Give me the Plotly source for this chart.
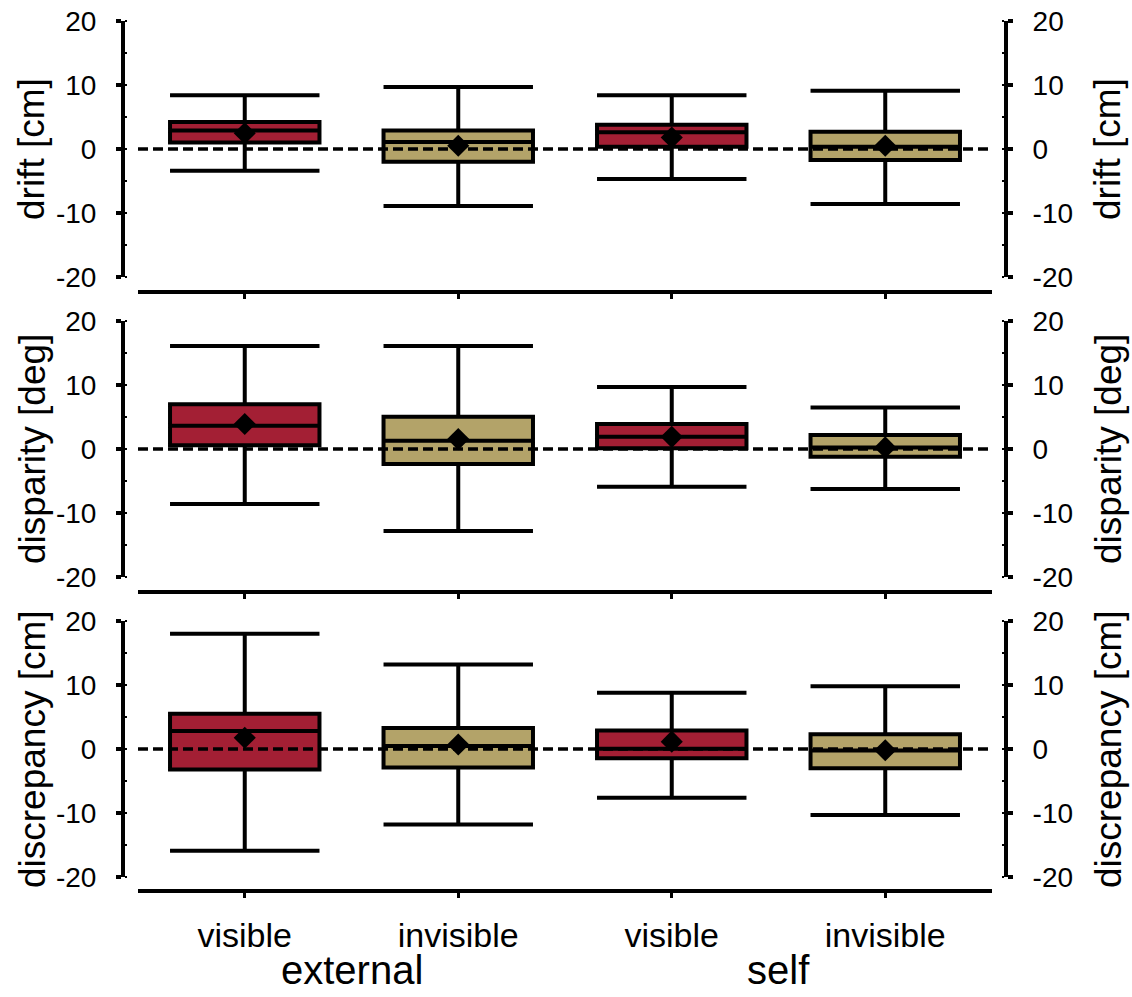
import plotly.graph_objects as go

# ---------------- data ----------------
categories = ["visible", "invisible", "visible", "invisible"]
groups = ["external", "self"]
panel_titles = ["drift [cm]", "disparity [deg]", "discrepancy [cm]"]
y_ticks = [-20, -10, 0, 10, 20]

drift_lower = [-3.4, -8.9, -4.7, -8.6]
drift_q1 = [1.0, -2.0, 0.35, -1.7]
drift_median = [2.9, 1.1, 2.6, 0.35]
drift_q3 = [4.2, 2.9, 3.8, 2.7]
drift_upper = [8.4, 9.7, 8.4, 9.1]
drift_mean = [2.45, 0.5, 1.8, 0.5]

disparity_lower = [-8.6, -12.8, -5.9, -6.25]
disparity_q1 = [0.6, -2.35, 0.1, -1.2]
disparity_median = [3.65, 1.3, 1.9, 0.25]
disparity_q3 = [7.0, 5.05, 3.9, 2.2]
disparity_upper = [16.1, 16.1, 9.7, 6.5]
disparity_mean = [3.9, 1.55, 1.9, 0.25]

discrepancy_lower = [-15.9, -11.8, -7.6, -10.3]
discrepancy_q1 = [-3.2, -2.9, -1.45, -3.0]
discrepancy_median = [2.8, 0.45, 0.05, -0.25]
discrepancy_q3 = [5.5, 3.3, 2.9, 2.3]
discrepancy_upper = [18.0, 13.2, 8.8, 9.8]
discrepancy_mean = [1.75, 0.7, 1.15, -0.2]

panels = [
    (drift_lower, drift_q1, drift_median, drift_q3, drift_upper, drift_mean),
    (disparity_lower, disparity_q1, disparity_median, disparity_q3, disparity_upper, disparity_mean),
    (discrepancy_lower, discrepancy_q1, discrepancy_median, discrepancy_q3, discrepancy_upper, discrepancy_mean),
]

RED = "#A31F34"
TAN = "#B3A369"
box_colors = [RED, TAN, RED, TAN]

# ---------------- layout geometry (pixels) ----------------
W, H = 1132, 997
FONT = "Liberation Sans"
panel_top = [21, 321, 621]      # y of +20
panel_bot = [277, 577, 877]     # y of -20
xaxis_y = [292, 592, 891]
x_left, x_right = 138, 992
left_spine, right_spine = 123, 1006


def px_x(p):
    return p / W


def px_y(p):
    return 1 - p / H


fig = go.Figure()
layout = dict(
    width=W, height=H,
    margin=dict(l=0, r=0, t=0, b=0, pad=0, autoexpand=False),
    paper_bgcolor="white", plot_bgcolor="white",
    showlegend=False,
    font=dict(family=FONT, color="black"),
)

shapes = []
annotations = []
xs = list(range(len(categories)))

for k, (lo, q1, med, q3, up, mean) in enumerate(panels):
    n = k + 1
    xa = "x" if n == 1 else f"x{n}"
    ya = "y" if n == 1 else f"y{n}"
    yr_name = f"y{n + 3}"
    for i in xs:
        fig.add_trace(go.Box(
            x=[i], q1=[q1[i]], median=[med[i]], q3=[q3[i]],
            lowerfence=[lo[i]], upperfence=[up[i]],
            fillcolor=box_colors[i], line=dict(color="black", width=4),
            whiskerwidth=1, width=0.7, boxpoints=False,
            xaxis=xa, yaxis=ya, hoverinfo="skip",
        ))
    fig.add_trace(go.Scatter(
        x=xs, y=mean, mode="markers",
        marker=dict(symbol="diamond", size=17, color="black"),
        xaxis=xa, yaxis=ya, hoverinfo="skip",
    ))
    # dummy trace for right axis
    fig.add_trace(go.Scatter(
        x=[0], y=[0], mode="markers", marker=dict(opacity=0),
        xaxis=xa, yaxis=yr_name, hoverinfo="skip",
    ))

    dom_y = [px_y(panel_bot[k]), px_y(panel_top[k])]
    xkey = "xaxis" if n == 1 else f"xaxis{n}"
    ykey = "yaxis" if n == 1 else f"yaxis{n}"
    layout[xkey] = dict(
        domain=[px_x(x_left), px_x(x_right)], range=[-0.5, 3.5],
        anchor="free", position=px_y(xaxis_y[k]), automargin=False,
        showline=True, linewidth=4, linecolor="black",
        ticks="outside", ticklen=5, tickwidth=3, tickcolor="black",
        tickvals=xs, ticktext=categories,
        showticklabels=(k == 2), tickfont=dict(size=34, family=FONT),
        ticklabelstandoff=8,
        showgrid=False, zeroline=False, fixedrange=True,
    )
    common_y = dict(
        domain=dom_y, range=[-20, 20], anchor="free", automargin=False,
        showline=True, linewidth=4, linecolor="black",
        ticks="outside", ticklen=5, tickwidth=4, tickcolor="black",
        tickvals=y_ticks, ticktext=[str(v) for v in y_ticks],
        tickfont=dict(size=28, family=FONT),
        ticklabelstandoff=14,
        minor=dict(dtick=5, ticks="inside", ticklen=2, tickwidth=2, tickcolor="black"),
        showgrid=False, zeroline=False, fixedrange=True,
    )
    layout[ykey] = dict(common_y, position=px_x(left_spine), side="left")
    layout[f"yaxis{n + 3}"] = dict(common_y, position=px_x(right_spine),
                                  side="right", overlaying=ya)

    # dashed zero line
    shapes.append(dict(
        type="line", xref=xa, yref=ya, x0=-0.5, x1=3.5, y0=0, y1=0,
        line=dict(color="black", width=3.5, dash="10px,5px"), layer="above",
    ))

    ymid = px_y((panel_top[k] + panel_bot[k]) / 2)
    for xpos in (32, 1108):
        annotations.append(dict(
            text=panel_titles[k], xref="paper", yref="paper",
            x=px_x(xpos), y=ymid, xanchor="center", yanchor="middle",
            textangle=-90, showarrow=False,
            font=dict(size=37, family=FONT, color="black"),
        ))

# group labels
for g, label in enumerate(groups):
    annotations.append(dict(
        text=label, xref="x3", yref="paper",
        x=2 * g + 0.5, y=px_y(970), xanchor="center", yanchor="middle",
        showarrow=False, borderpad=0,
        font=dict(size=40, family=FONT, color="black"),
    ))

layout["shapes"] = shapes
layout["annotations"] = annotations
fig.update_layout(**layout)
fig.write_html("out.html")
